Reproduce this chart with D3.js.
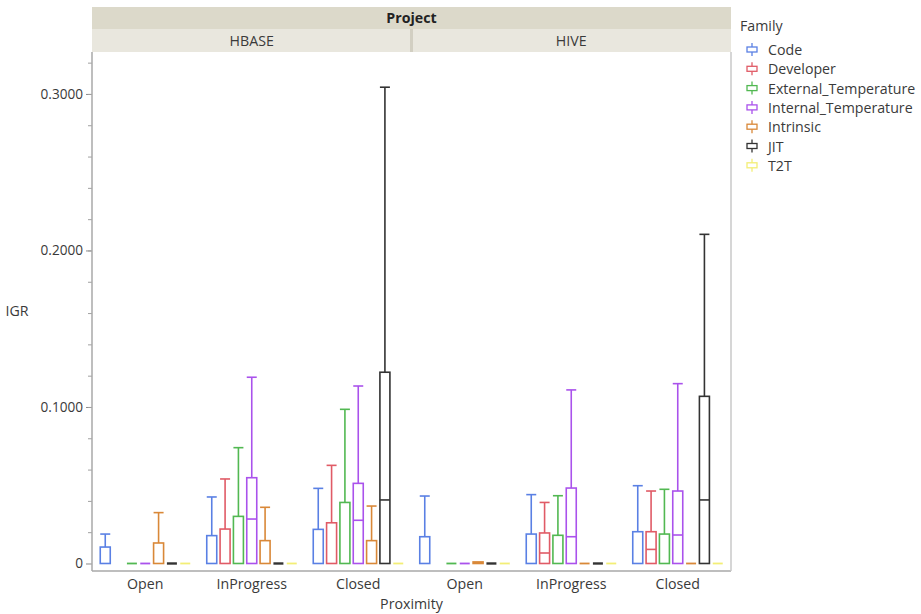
<!DOCTYPE html>
<html>
<head>
<meta charset="utf-8">
<script src="https://cdn.jsdelivr.net/npm/d3@7"></script>
<style>
  body { margin: 0; background: #fff; }
  text { font-family: "Open Sans", "Noto Sans", sans-serif; fill: #3a3a3a; }
</style>
</head>
<body>
<div id="chart"></div>
<script>
// data (IGR by Project / Proximity / Family)
const projects = ["HBASE", "HIVE"];
const proximities = ["Open", "InProgress", "Closed"];
const families = ["Code", "Developer", "External_Temperature", "Internal_Temperature", "Intrinsic", "JIT", "T2T"];
const familyColors = ["#5a80e4", "#e05b66", "#52b852", "#aa52ec", "#d98838", "#333333", "#f3ee76"];

// rows = proximity, columns = family, null = no data
const hbaseQ1 = [
    [0, null, 0, 0, 0, 0, 0],
    [0, 0, 0, 0, 0, 0, 0],
    [0, 0, 0, 0, 0, 0, 0]
];
const hbaseMedian = [
    [0, null, 0, 0, 0, 0, 0],
    [0, 0, 0, 0.0284, 0, 0, 0],
    [0, 0, 0, 0.0276, 0, 0.0406, 0]
];
const hbaseQ3 = [
    [0.0105, null, 0, 0, 0.0131, 0, 0],
    [0.0178, 0.0220, 0.0301, 0.0548, 0.0146, 0, 0],
    [0.0218, 0.0260, 0.0390, 0.0512, 0.0146, 0.1222, 0]
];
const hbaseUpper = [
    [0.0188, null, 0, 0, 0.0325, 0, 0],
    [0.0425, 0.0540, 0.0740, 0.1190, 0.0359, 0, 0],
    [0.0480, 0.0627, 0.0985, 0.1134, 0.0367, 0.3043, 0]
];

const hiveQ1 = [
    [0, null, 0, 0, 0, 0, 0],
    [0, 0, 0, 0, 0, 0, 0],
    [0, 0, 0, 0, 0, 0, 0]
];
const hiveMedian = [
    [0, null, 0, 0, 0, 0, 0],
    [0, 0.0067, 0, 0.0171, 0, 0, 0],
    [0, 0.0090, 0, 0.0182, 0, 0.0406, 0]
];
const hiveQ3 = [
    [0.0171, null, 0, 0, 0.0010, 0, 0],
    [0.0188, 0.0195, 0.0180, 0.0482, 0, 0, 0],
    [0.0203, 0.0203, 0.0188, 0.0463, 0, 0.1068, 0]
];
const hiveUpper = [
    [0.0431, null, 0, 0, 0.0010, 0, 0],
    [0.0440, 0.0390, 0.0433, 0.1109, 0, 0, 0],
    [0.0497, 0.0463, 0.0474, 0.1149, 0, 0.2103, 0]
];

const yMajorTicks = [0, 0.1, 0.2, 0.3];
const yTickLabels = ["0", "0.1000", "0.2000", "0.3000"];

function setupChart() {
    const width = 921, height = 614;
    const plotLeft = 92, plotRight = 731, plotTop = 52, plotBottom = 571;
    const boxWidth = 10;
    const fontSize = "14.2px";

    const svg = d3.select("#chart").append("svg")
        .attr("width", width)
        .attr("height", height);

    const stats = {
        HBASE: { q1: hbaseQ1, med: hbaseMedian, q3: hbaseQ3, up: hbaseUpper },
        HIVE: { q1: hiveQ1, med: hiveMedian, q3: hiveQ3, up: hiveUpper }
    };

    // scales
    const y = d3.scaleLinear().domain([-0.0048, 0.3268]).range([plotBottom, plotTop]);
    const xProject = d3.scaleBand().domain(projects).range([plotLeft, plotRight]);
    const xProx = d3.scaleBand().domain(proximities).range([0, xProject.bandwidth()]);
    const xFam = d3.scalePoint().domain(families).range([-40, 40]);
    const color = d3.scaleOrdinal().domain(families).range(familyColors);

    // header strips
    svg.append("rect").attr("x", plotLeft).attr("y", 7)
        .attr("width", plotRight - plotLeft).attr("height", 22).attr("fill", "#dcd9ca");
    svg.append("text").attr("x", (plotLeft + plotRight) / 2).attr("y", 23)
        .attr("text-anchor", "middle").style("font-size", fontSize).style("font-weight", "bold")
        .style("fill", "#222").text("Project");

    projects.forEach(function (p) {
        svg.append("rect").attr("x", xProject(p)).attr("y", 29)
            .attr("width", xProject.bandwidth()).attr("height", 23).attr("fill", "#e9e7de");
        svg.append("text").attr("x", xProject(p) + xProject.bandwidth() / 2).attr("y", 46)
            .attr("text-anchor", "middle").style("font-size", fontSize).text(p);
    });
    svg.append("line").attr("x1", xProject("HIVE")).attr("x2", xProject("HIVE"))
        .attr("y1", 29).attr("y2", 52).attr("stroke", "#d2cfc2").attr("stroke-width", 3);

    // frame
    svg.append("line").attr("x1", plotLeft).attr("x2", plotRight).attr("y1", plotBottom).attr("y2", plotBottom)
        .attr("stroke", "#a8a8a8").attr("stroke-width", 1.5);
    svg.append("line").attr("x1", plotRight).attr("x2", plotRight).attr("y1", plotTop).attr("y2", plotBottom)
        .attr("stroke", "#c8c8c8").attr("stroke-width", 1.5);

    // y axis (major + minor ticks)
    const yAxis = svg.append("g").attr("transform", "translate(" + plotLeft + ",0)")
        .call(d3.axisLeft(y).tickValues(yMajorTicks).tickSize(6).tickPadding(3)
            .tickFormat(function (d, i) { return yTickLabels[i]; }));
    yAxis.select(".domain").remove();
    yAxis.selectAll("line").attr("stroke", "#8a8a8a");
    yAxis.selectAll("text").style("font-size", "13.6px").style("fill", "#3a3a3a")
        .style("font-family", "'Open Sans', sans-serif");
    const minor = svg.append("g").attr("transform", "translate(" + plotLeft + ",0)")
        .call(d3.axisLeft(y).tickValues(d3.range(0.02, 0.33, 0.02)).tickSize(4).tickFormat(""));
    minor.select(".domain").remove();
    minor.selectAll("line").attr("stroke", "#a0a0a0");
    svg.append("line").attr("x1", plotLeft).attr("x2", plotLeft).attr("y1", plotTop).attr("y2", plotBottom)
        .attr("stroke", "#a8a8a8").attr("stroke-width", 1.5);

    svg.append("text").attr("x", 17).attr("y", 316).attr("text-anchor", "middle")
        .style("font-size", fontSize).text("IGR");

    // x labels
    projects.forEach(function (p) {
        proximities.forEach(function (c) {
            svg.append("text")
                .attr("x", xProject(p) + xProx(c) + xProx.bandwidth() / 2)
                .attr("y", 589).attr("text-anchor", "middle").style("font-size", fontSize).text(c);
        });
    });
    svg.append("text").attr("x", (plotLeft + plotRight) / 2).attr("y", 609)
        .attr("text-anchor", "middle").style("font-size", fontSize).text("Proximity");

    // boxes
    let boxes = [];
    projects.forEach(function (p) {
        proximities.forEach(function (c, i) {
            families.forEach(function (f, j) {
                const s = stats[p];
                if (s.q3[i][j] === null) return;
                boxes.push({
                    family: f,
                    cx: xProject(p) + xProx(c) + xProx.bandwidth() / 2 + xFam(f),
                    q1: s.q1[i][j], med: s.med[i][j], q3: s.q3[i][j], up: s.up[i][j]
                });
            });
        });
    });

    const g = svg.append("g").attr("fill", "none").attr("stroke-width", 1.6);

    // whiskers
    const withWhisker = boxes.filter(function (d) { return d.up > d.q3; });
    g.selectAll("whisker").data(withWhisker)
        .enter().append("line")
        .attr("x1", function (d) { return d.cx; }).attr("x2", function (d) { return d.cx; })
        .attr("y1", function (d) { return y(d.q3); }).attr("y2", function (d) { return y(d.up); })
        .attr("stroke", function (d) { return color(d.family); });
    g.selectAll("cap").data(withWhisker)
        .enter().append("line")
        .attr("x1", function (d) { return d.cx - boxWidth / 2; }).attr("x2", function (d) { return d.cx + boxWidth / 2; })
        .attr("y1", function (d) { return y(d.up); }).attr("y2", function (d) { return y(d.up); })
        .attr("stroke", function (d) { return color(d.family); });

    // box (flat ones are drawn as a line)
    g.selectAll("box").data(boxes.filter(function (d) { return d.q3 > d.q1; }))
        .enter().append("rect")
        .attr("x", function (d) { return d.cx - boxWidth / 2; })
        .attr("width", boxWidth)
        .attr("y", function (d) { return y(d.q3); })
        .attr("height", function (d) { return y(d.q1) - y(d.q3); })
        .attr("stroke", function (d) { return color(d.family); });
    g.selectAll("flat").data(boxes.filter(function (d) { return d.q3 <= d.q1; }))
        .enter().append("line")
        .attr("x1", function (d) { return d.cx - boxWidth / 2; }).attr("x2", function (d) { return d.cx + boxWidth / 2; })
        .attr("y1", function (d) { return y(d.q1); }).attr("y2", function (d) { return y(d.q1); })
        .attr("stroke", function (d) { return color(d.family); })
        .attr("stroke-width", function (d) { return d.family === "JIT" ? 2.4 : 1.8; });

    // median
    g.selectAll("median").data(boxes.filter(function (d) { return d.med > d.q1; }))
        .enter().append("line")
        .attr("x1", function (d) { return d.cx - boxWidth / 2; }).attr("x2", function (d) { return d.cx + boxWidth / 2; })
        .attr("y1", function (d) { return y(d.med); }).attr("y2", function (d) { return y(d.med); })
        .attr("stroke", function (d) { return color(d.family); });

    // legend
    const legend = svg.append("g").attr("transform", "translate(740,0)");
    legend.append("text").attr("x", 0).attr("y", 31).style("font-size", fontSize).text("Family");
    families.forEach(function (f, i) {
        const ly = 50 + i * 19.3;
        const item = legend.append("g").attr("transform", "translate(0," + ly + ")");
        item.append("line").attr("x1", 12).attr("x2", 12).attr("y1", -7).attr("y2", 6)
            .attr("stroke", color(f)).attr("stroke-width", 1.3);
        item.append("rect").attr("x", 7).attr("y", -3).attr("width", 10).attr("height", 5)
            .attr("fill", "#fff").attr("stroke", color(f)).attr("stroke-width", 1.3);
        item.append("text").attr("x", 28).attr("y", 5).style("font-size", fontSize).text(f);
    });

    console.log("[] chart created");
}

setupChart();
</script>
</body>
</html>
